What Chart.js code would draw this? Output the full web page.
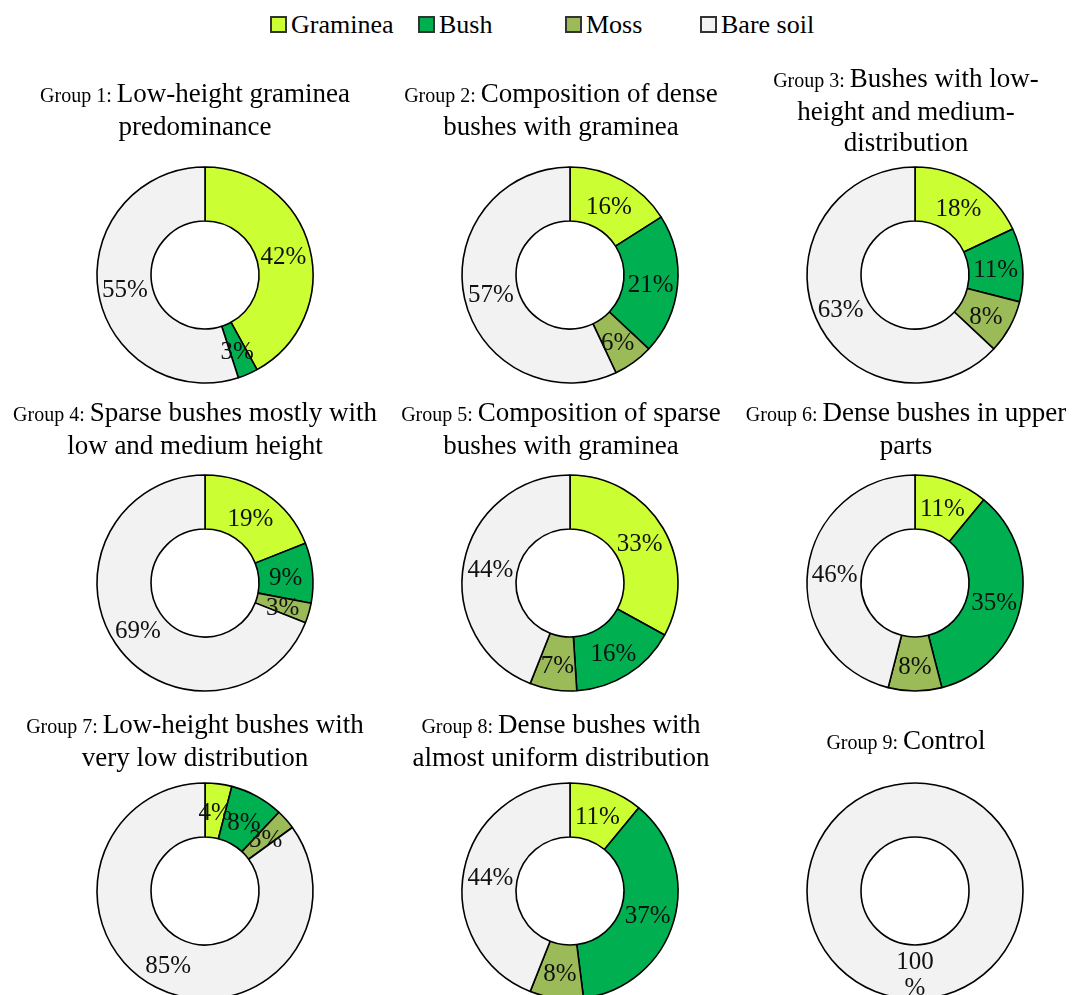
<!DOCTYPE html>
<html>
<head>
<meta charset="utf-8">
<script src="https://cdn.jsdelivr.net/npm/chart.js@4/dist/chart.umd.min.js"></script>
<style>
  html, body { margin:0; padding:0; background:#fff; width:1073px; height:995px; overflow:hidden; }
  body { position:relative; font-family:"Liberation Serif","Times New Roman",serif; color:#000; }
  .legend { position:absolute; top:10px; left:270px; height:30px; white-space:nowrap; }
  .litem { position:absolute; top:0; display:flex; align-items:center; font-size:26px; line-height:30px; }
  .lbox { width:13px; height:13px; border:2px solid #333; margin-right:4px; margin-top:-2px; }
  .title { position:absolute; width:420px; height:130px; display:flex; flex-direction:column; justify-content:center; text-align:center; font-size:27px; line-height:31px; }
  .title .pre { font-size:20px; }
  canvas.pie { position:absolute; }
</style>
</head>
<body>
<div class="legend" id="legend"></div>
<div id="charts"></div>
<script>
// ---- data ----
const categories = ["Graminea", "Bush", "Moss", "Bare soil"];
const colors = ["#CCFF33", "#00B050", "#9BBB59", "#F2F2F2"];
const groupNames = ["Group 1:", "Group 2:", "Group 3:", "Group 4:", "Group 5:", "Group 6:", "Group 7:", "Group 8:", "Group 9:"];
const groupTitles = [
  ["Low-height graminea", "predominance"],
  ["Composition of dense", "bushes with graminea"],
  ["Bushes with low-", "height and medium-", "distribution"],
  ["Sparse bushes mostly with", "low and medium height"],
  ["Composition of sparse", "bushes with graminea"],
  ["Dense bushes in upper", "parts"],
  ["Low-height bushes with", "very low distribution"],
  ["Dense bushes with", "almost uniform distribution"],
  ["Control"]
];
const g1 = [42, 3, 0, 55];
const g2 = [16, 21, 6, 57];
const g3 = [18, 11, 8, 63];
const g4 = [19, 9, 3, 69];
const g5 = [33, 16, 7, 44];
const g6 = [11, 35, 8, 46];
const g7 = [4, 8, 3, 85];
const g8 = [11, 37, 8, 44];
const g9 = [0, 0, 0, 100];
const groupValues = [g1, g2, g3, g4, g5, g6, g7, g8, g9];

// ---- layout ----
const colX = [205, 570, 915];
const rowY = [275, 583, 891];
const titleX = [195, 561, 906];
const titleY = [110, 429, 741];
const legendLeft = [0, 148, 295, 430];
const FONT = '"Liberation Serif","Times New Roman",serif';

// legend
const legend = document.getElementById('legend');
categories.forEach((c, i) => {
  const it = document.createElement('div');
  it.className = 'litem';
  it.style.left = legendLeft[i] + 'px';
  const b = document.createElement('div');
  b.className = 'lbox';
  b.style.background = colors[i];
  it.appendChild(b);
  const t = document.createElement('span');
  t.textContent = c;
  it.appendChild(t);
  legend.appendChild(it);
});

const labelPlugin = {
  id: 'pctLabels',
  afterDatasetsDraw(chart) {
    const ctx = chart.ctx;
    const meta = chart.getDatasetMeta(0);
    const data = chart.data.datasets[0].data;
    ctx.save();
    ctx.font = '25px ' + FONT;
    ctx.fillStyle = '#111';
    ctx.textAlign = 'center';
    ctx.textBaseline = 'middle';
    meta.data.forEach((arc, i) => {
      const v = data[i];
      if (!v) return;
      const p = arc.getProps(['x', 'y', 'startAngle', 'endAngle', 'innerRadius', 'outerRadius'], true);
      const a = (p.startAngle + p.endAngle) / 2;
      const r = (p.innerRadius + p.outerRadius) / 2;
      const x = p.x + Math.cos(a) * r;
      const y = p.y + Math.sin(a) * r + 3;
      const txt = v + '%';
      if (ctx.measureText(txt).width > 52) {
        ctx.fillText(String(v), x, y - 13);
        ctx.fillText('%', x, y + 13);
      } else {
        ctx.fillText(txt, x, y);
      }
    });
    ctx.restore();
  }
};

// full ring outline (avoid radial seam for a 100% slice)
const ringPlugin = {
  id: 'ringOutline',
  afterDatasetsDraw(chart) {
    const meta = chart.getDatasetMeta(0);
    const ctx = chart.ctx;
    meta.data.forEach((arc) => {
      const p = arc.getProps(['x', 'y', 'startAngle', 'endAngle', 'innerRadius', 'outerRadius'], true);
      if (Math.abs(p.endAngle - p.startAngle - Math.PI * 2) < 1e-6) {
        ctx.save();
        ctx.strokeStyle = '#000';
        ctx.lineWidth = 1.6;
        ctx.beginPath(); ctx.arc(p.x, p.y, p.outerRadius, 0, Math.PI * 2); ctx.stroke();
        ctx.beginPath(); ctx.arc(p.x, p.y, p.innerRadius, 0, Math.PI * 2); ctx.stroke();
        ctx.restore();
      }
    });
  }
};

const holder = document.getElementById('charts');
groupValues.forEach((vals, gi) => {
  const col = gi % 3, row = Math.floor(gi / 3);
  // title
  const t = document.createElement('div');
  t.className = 'title';
  t.style.left = (titleX[col] - 210) + 'px';
  t.style.top = (titleY[row] - 65) + 'px';
  groupTitles[gi].forEach((line, li) => {
    const d = document.createElement('div');
    if (li === 0) {
      const s = document.createElement('span');
      s.className = 'pre';
      s.textContent = groupNames[gi] + ' ';
      d.appendChild(s);
    }
    d.appendChild(document.createTextNode(line));
    t.appendChild(d);
  });
  document.body.appendChild(t);

  const cv = document.createElement('canvas');
  cv.className = 'pie';
  cv.width = 240; cv.height = 240;
  cv.style.left = (colX[col] - 120) + 'px';
  cv.style.top = (rowY[row] - 120) + 'px';
  holder.appendChild(cv);
  const full = vals.some(v => v === 100);
  new Chart(cv, {
    type: 'doughnut',
    data: {
      labels: categories,
      datasets: [{
        data: vals,
        backgroundColor: colors,
        borderColor: '#000',
        borderWidth: full ? 0 : 1.6
      }]
    },
    options: {
      responsive: false,
      animation: false,
      radius: 108,
      cutout: '50%',
      layout: { padding: 0 },
      plugins: { legend: { display: false }, tooltip: { enabled: false } }
    },
    plugins: [ringPlugin, labelPlugin]
  });
});
</script>
</body>
</html>
